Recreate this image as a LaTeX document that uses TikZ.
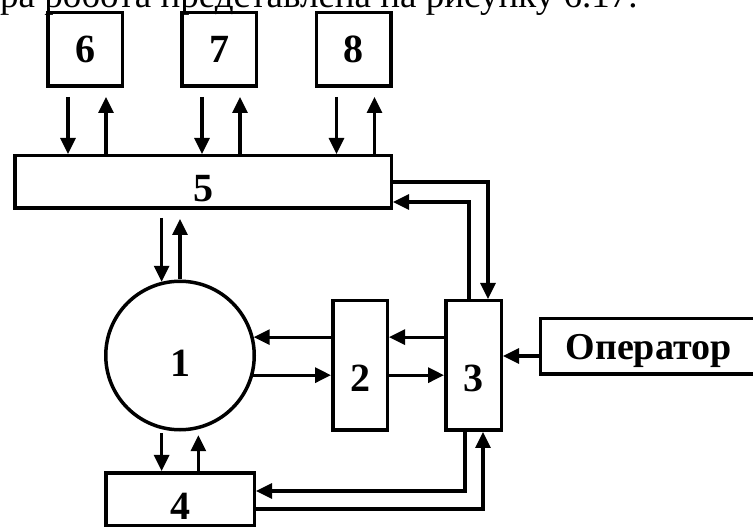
\documentclass[tikz,border=0pt]{standalone}
\usepackage{fontspec}
\setmainfont{Liberation Serif}
\usepackage{tikz}
\usetikzlibrary{calc,arrows.meta,positioning}
\definecolor{linec}{HTML}{000000}
\tikzset{
  ar/.style={-{Triangle[length=16pt,width=15pt]},line width=3.2pt,linec},
  box/.style={draw=linec,line width=3.5pt,rectangle,inner sep=0pt,font=\fontsize{40}{40}\selectfont\bfseries}
}

\begin{document}
\begin{tikzpicture}[x=1pt,y=-1pt]
\useasboundingbox (0,0) rectangle (753,529);
\node[anchor=base west,inner sep=0pt,font=\fontsize{37}{37}\selectfont] (cap) at (0,8) {ра робота представлена на рисунку 6.17.};
% upper blocks
\node[box,minimum width=74.5pt,minimum height=73.5pt] (b6) at (85,49.5) {6};
\node[box,minimum width=74.5pt,minimum height=73.5pt] (b7) at (219,49.5) {7};
\node[box,minimum width=74.5pt,minimum height=73.5pt] (b8) at (353.5,49.5) {8};
\node[box,minimum width=376.5pt,minimum height=52.5pt,text height=39pt] (b5) at (203,182) {5};
% lower blocks
\node[box,circle,minimum size=148.5pt,text height=42pt] (c1) at (180,355.5) {1};
\node[box,minimum width=54.5pt,minimum height=129.5pt,text height=52pt] (b2) at (360,365.5) {2};
\node[box,minimum width=55.5pt,minimum height=129.5pt,text height=52pt] (b3) at (473.5,365.5) {3};
\node[box,minimum width=148.5pt,minimum height=52.5pt,text height=41pt] (b4) at (180,499) {4};
\node[box,minimum width=216pt,minimum height=55.5pt,text height=27pt,text depth=0pt,font=\fontsize{38}{38}\selectfont\bfseries] (op) at (648.5,346.5) {Оператор};
% links to 5
\foreach \n in {6,7,8}{
  \coordinate (d\n) at ([xshift=-17pt]b\n.south);
  \coordinate (u\n) at ([xshift=21pt]b\n.south);
  \draw[ar,shorten <=9pt] (d\n) -- (d\n |- b5.north);
  \draw[ar,shorten >=9pt] (u\n |- b5.north) -- (u\n);
}
\draw[ar,shorten <=8pt] (c1.104 |- b5.south) -- (c1.104);
\draw[ar,shorten >=9pt] (c1.north) -- (c1.north |- b5.south);
% 1 -- 4
\draw[ar,shorten <=4pt] (c1.256) -- (c1.256 |- b4.north);
\draw[ar,shorten >=6pt] (c1.284 |- b4.north) -- (c1.284);
% 1 -- 2 -- 3
\draw[ar] (c1.14 -| b2.west) -- (c1.14);
\draw[ar] (c1.345) -- (c1.345 -| b2.west);
\draw[ar] (c1.14 -| b3.west) -- (c1.14 -| b2.east);
\draw[ar] (c1.345 -| b2.east) -- (c1.345 -| b3.west);
\coordinate (oin) at ([yshift=-9.5pt]op.west);
\draw[ar] (oin) -- (oin -| b3.east);
% loops round 3
\draw[ar] (b5.east) -| ([xshift=14.5pt]b3.north);
\draw[ar] ([xshift=-4.5pt]b3.north) |- ([yshift=-20pt]b5.east);
\draw[ar] ([xshift=-8.5pt]b3.south) |- ([yshift=8pt]b4.east);
\draw[ar] ([yshift=-10pt]b4.east) -| ([xshift=9.5pt]b3.south);
\end{tikzpicture}
\end{document}
